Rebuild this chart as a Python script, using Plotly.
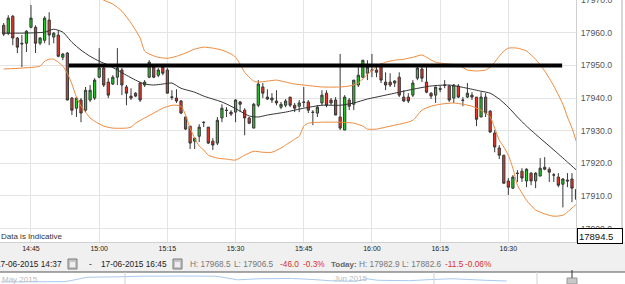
import plotly.graph_objects as go
import pandas as pd

DAY = "2015-06-17"

# ---- 1-minute candles starting 14:39 ----
opens = [17962.3, 17959.9, 17965.1, 17958.4, 17956.8, 17956.8, 17961.7, 17961.7, 17956.8, 17957.7,
         17963.9, 17958.7, 17959.3, 17952.5, 17953.8, 17940.0, 17936.9, 17939.4, 17936.3, 17939.4,
         17940.0, 17946.4, 17949.2, 17944.9, 17944.3, 17946.4, 17948.6, 17943.4, 17940.6, 17941.5,
         17944.6, 17944.0, 17946.4, 17949.5, 17947.0, 17949.5, 17948.6, 17940.4, 17940.0, 17939.1,
         17934.2, 17931.4, 17926.8, 17928.3, 17932.6, 17931.1, 17926.8, 17926.2, 17933.9, 17936.3,
         17935.7, 17935.7, 17938.8, 17936.3, 17933.9, 17930.8, 17937.8, 17943.4, 17940.3, 17939.4,
         17939.1, 17937.2, 17937.8, 17940.3, 17937.8, 17937.5, 17938.8, 17938.8, 17935.7, 17935.4,
         17938.5, 17941.5, 17939.4, 17939.4, 17934.2, 17930.2, 17939.4, 17938.1, 17944.0, 17946.4,
         17947.6, 17948.6, 17948.6, 17950.1, 17944.9, 17944.9, 17944.6, 17946.4, 17940.3, 17940.3,
         17940.9, 17946.1, 17948.9, 17944.9, 17941.5, 17940.9, 17942.9, 17944.0, 17943.7, 17940.0,
         17943.7, 17939.4, 17940.3, 17940.9, 17940.3, 17934.2, 17940.3, 17936.0, 17929.3, 17924.7,
         17922.5, 17914.6, 17912.4, 17917.0, 17917.6, 17914.6, 17917.0, 17914.6, 17916.1, 17918.8,
         17918.2, 17916.5, 17915.8, 17913.6, 17914.9, 17915.2, 17912.0]
highs = [17963.0, 17965.4, 17965.4, 17958.7, 17959.3, 17960.8, 17968.5, 17962.3, 17958.7, 17965.1,
         17966.3, 17960.2, 17960.8, 17953.8, 17954.1, 17940.3, 17940.3, 17940.0, 17943.4, 17944.0,
         17946.1, 17955.3, 17949.5, 17946.1, 17947.0, 17955.3, 17949.2, 17944.0, 17943.0, 17941.8,
         17944.9, 17945.5, 17951.6, 17950.1, 17949.2, 17950.1, 17949.2, 17942.4, 17942.7, 17939.4,
         17934.2, 17931.4, 17928.0, 17932.0, 17932.9, 17931.1, 17927.7, 17934.2, 17938.1, 17937.2,
         17936.3, 17939.7, 17939.1, 17936.9, 17934.2, 17938.5, 17945.5, 17944.6, 17942.7, 17941.5,
         17942.4, 17938.8, 17939.7, 17940.3, 17938.5, 17939.4, 17943.4, 17939.4, 17936.3, 17937.8,
         17942.4, 17942.4, 17940.0, 17940.3, 17953.5, 17940.9, 17940.0, 17945.5, 17949.5, 17951.6,
         17951.6, 17953.5, 17949.5, 17950.7, 17947.9, 17947.6, 17945.5, 17947.9, 17942.4, 17941.5,
         17945.5, 17950.1, 17949.5, 17949.5, 17941.8, 17943.4, 17943.7, 17945.5, 17944.0, 17944.3,
         17944.3, 17940.3, 17944.6, 17941.8, 17940.3, 17941.8, 17941.5, 17936.3, 17930.2, 17925.6,
         17922.5, 17915.5, 17916.4, 17917.9, 17918.5, 17918.5, 17917.3, 17917.3, 17921.6, 17921.9,
         17918.8, 17917.0, 17917.0, 17915.5, 17917.0, 17917.0, 17913.0]
lows = [17959.0, 17959.3, 17956.2, 17953.8, 17949.5, 17954.1, 17961.4, 17953.8, 17956.2, 17956.8,
        17956.2, 17956.8, 17952.5, 17951.6, 17939.4, 17934.8, 17934.2, 17932.6, 17935.7, 17938.8,
        17939.4, 17946.1, 17943.4, 17940.0, 17944.0, 17944.0, 17940.9, 17937.8, 17939.4, 17940.3,
        17938.8, 17943.4, 17946.1, 17946.1, 17946.4, 17947.0, 17941.5, 17939.4, 17938.5, 17935.1,
        17930.2, 17924.4, 17924.4, 17926.5, 17931.1, 17925.9, 17924.1, 17925.6, 17932.6, 17934.2,
        17934.5, 17932.6, 17935.7, 17928.6, 17932.0, 17930.8, 17937.2, 17940.0, 17939.4, 17938.5,
        17937.8, 17936.6, 17937.2, 17937.2, 17935.7, 17935.7, 17937.2, 17935.4, 17931.7, 17934.2,
        17937.8, 17937.2, 17937.8, 17934.8, 17930.2, 17930.2, 17936.3, 17936.3, 17943.4, 17946.1,
        17945.5, 17946.4, 17946.4, 17944.6, 17942.4, 17943.4, 17943.4, 17940.3, 17938.8, 17938.5,
        17940.3, 17945.5, 17944.9, 17941.5, 17939.7, 17938.5, 17941.8, 17943.0, 17938.8, 17938.5,
        17940.0, 17937.5, 17940.0, 17939.4, 17931.4, 17934.2, 17934.2, 17929.3, 17923.4, 17921.3,
        17913.9, 17910.3, 17912.1, 17914.3, 17914.3, 17912.7, 17913.3, 17912.4, 17916.1, 17917.9,
        17914.3, 17914.3, 17912.7, 17906.5, 17912.7, 17908.1, 17908.1]
closes = [17959.6, 17964.5, 17958.4, 17955.6, 17956.6, 17960.5, 17964.5, 17956.8, 17958.4, 17964.5,
          17959.3, 17959.9, 17952.8, 17953.5, 17939.4, 17936.3, 17940.0, 17935.4, 17942.4, 17942.4,
          17945.5, 17949.2, 17944.0, 17940.9, 17946.4, 17949.2, 17944.0, 17941.5, 17940.0, 17940.6,
          17939.4, 17944.9, 17951.0, 17946.4, 17948.6, 17947.6, 17941.5, 17940.2, 17939.1, 17935.4,
          17930.5, 17926.2, 17927.7, 17931.1, 17932.5, 17926.2, 17925.6, 17933.2, 17936.9, 17936.2,
          17935.1, 17939.4, 17938.1, 17933.9, 17932.3, 17938.1, 17944.3, 17941.5, 17939.7, 17940.0,
          17938.5, 17938.1, 17939.1, 17937.8, 17936.9, 17938.5, 17938.7, 17936.3, 17935.6, 17937.2,
          17940.9, 17937.8, 17938.5, 17934.8, 17930.8, 17940.3, 17937.5, 17945.5, 17947.0, 17951.6,
          17949.5, 17948.5, 17947.9, 17945.5, 17944.0, 17944.0, 17945.2, 17940.9, 17939.1, 17939.1,
          17944.6, 17949.2, 17946.1, 17941.8, 17940.6, 17943.4, 17942.7, 17943.9, 17939.4, 17944.0,
          17940.3, 17939.3, 17941.5, 17940.3, 17933.5, 17940.3, 17935.4, 17929.6, 17925.0, 17922.5,
          17913.9, 17912.7, 17915.8, 17916.9, 17915.5, 17918.2, 17914.6, 17917.0, 17918.5, 17918.2,
          17917.3, 17916.4, 17913.3, 17915.2, 17914.6, 17912.4, 17909.0]
candle_times = pd.date_range(f"{DAY} 14:39", periods=len(opens), freq="min")

# ---- Bollinger bands ----
upper_times = ["14:39", "14:45", "14:51", "14:55", "14:58", "15:00", "15:01", "15:03", "15:05", "15:07",
               "15:08", "15:09", "15:10", "15:11", "15:13", "15:15", "15:17", "15:19", "15:21", "15:23",
               "15:25", "15:27", "15:29", "15:30", "15:31", "15:32", "15:33", "15:34", "15:35", "15:37",
               "15:39", "15:41", "15:43", "15:45", "15:49", "15:53", "15:55", "15:57", "15:59", "16:01",
               "16:03", "16:05", "16:07", "16:09", "16:11", "16:12", "16:14", "16:17", "16:19", "16:21",
               "16:23", "16:25", "16:26", "16:27", "16:28", "16:29", "16:30", "16:32", "16:34", "16:36",
               "16:38", "16:40", "16:42", "16:43", "16:44", "16:45"]
upper_vals = [17971.2, 17970.9, 17970.9, 17971.8, 17972.5, 17970.9, 17970.0, 17968.8, 17966.6, 17963.0,
              17960.8, 17958.4, 17954.4, 17953.5, 17952.5, 17952.2, 17952.8, 17953.8, 17955.0, 17955.6,
              17955.3, 17954.7, 17953.5, 17952.5, 17950.4, 17947.9, 17946.4, 17945.2, 17944.9, 17945.2,
              17945.5, 17944.9, 17944.3, 17944.0, 17943.4, 17943.4, 17943.7, 17944.6, 17947.3, 17949.5,
              17951.0, 17951.6, 17951.9, 17952.5, 17953.2, 17952.5, 17951.0, 17950.4, 17950.1, 17948.6,
              17948.3, 17948.6, 17949.5, 17951.0, 17952.8, 17954.4, 17955.3, 17955.3, 17954.4, 17951.9,
              17948.3, 17943.7, 17938.1, 17934.2, 17930.8, 17926.5]

mid_times = ["14:39", "14:43", "14:48", "14:50", "14:52", "14:54", "14:56", "14:58", "15:00", "15:02",
             "15:04", "15:06", "15:08", "15:10", "15:12", "15:14", "15:16", "15:18", "15:21", "15:23",
             "15:25", "15:27", "15:29", "15:31", "15:33", "15:35", "15:37", "15:41", "15:45", "15:49",
             "15:53", "15:56", "15:59", "16:02", "16:05", "16:09", "16:13", "16:17", "16:21", "16:24",
             "16:26", "16:28", "16:30", "16:32", "16:34", "16:37", "16:40", "16:43", "16:45"]
mid_vals = [17959.9, 17959.9, 17960.2, 17961.1, 17960.2, 17957.1, 17954.7, 17952.8, 17951.3, 17950.1,
            17948.6, 17947.0, 17945.5, 17944.3, 17944.0, 17944.3, 17944.6, 17943.0, 17941.8, 17940.6,
            17939.7, 17938.8, 17937.5, 17936.0, 17934.5, 17934.2, 17934.8, 17935.7, 17936.9, 17937.8,
            17937.8, 17938.5, 17939.7, 17940.6, 17941.5, 17942.7, 17943.7, 17944.0, 17943.0, 17942.1,
            17941.5, 17939.7, 17937.2, 17934.2, 17931.4, 17927.7, 17924.1, 17920.4, 17917.9]

lower_times = ["14:39", "14:43", "14:47", "14:48", "14:49", "14:50", "14:51", "14:52", "14:53", "14:54",
               "14:55", "14:56", "14:57", "14:58", "14:59", "15:01", "15:03", "15:06", "15:07", "15:08",
               "15:10", "15:12", "15:14", "15:16", "15:18", "15:19", "15:20", "15:21", "15:22", "15:23",
               "15:24", "15:26", "15:28", "15:30", "15:32", "15:34", "15:36", "15:38", "15:40", "15:41",
               "15:42", "15:43", "15:44", "15:45", "15:46", "15:49", "15:53", "15:56", "15:58", "15:59",
               "16:01", "16:03", "16:05", "16:07", "16:09", "16:11", "16:13", "16:15", "16:18", "16:20",
               "16:22", "16:24", "16:25", "16:26", "16:27", "16:28", "16:29", "16:30", "16:31", "16:32",
               "16:33", "16:34", "16:36", "16:38", "16:40", "16:42", "16:43", "16:44", "16:45"]
lower_vals = [17948.9, 17949.2, 17949.8, 17951.3, 17951.9, 17951.9, 17951.0, 17949.8, 17947.6, 17944.3,
              17940.3, 17937.5, 17935.7, 17933.9, 17932.9, 17931.4, 17930.8, 17930.8, 17931.1, 17932.3,
              17933.9, 17935.4, 17936.9, 17937.8, 17937.5, 17934.8, 17930.8, 17927.7, 17925.3, 17924.1,
              17922.5, 17921.6, 17921.3, 17921.0, 17922.5, 17923.7, 17923.4, 17923.4, 17924.7, 17925.6,
              17926.5, 17927.4, 17928.3, 17931.4, 17932.3, 17932.6, 17932.6, 17932.3, 17931.4, 17930.5,
              17930.5, 17931.1, 17931.7, 17932.3, 17933.2, 17936.3, 17937.5, 17938.1, 17938.5, 17938.1,
              17937.5, 17936.3, 17935.4, 17934.2, 17930.8, 17927.1, 17925.0, 17922.5, 17918.5, 17913.3,
              17910.9, 17908.7, 17905.7, 17904.5, 17903.8, 17904.1, 17905.1, 17906.3, 17907.5]

# ---- drawn level line ----
level_price = 17950.0
level_start = "14:53:20"
level_end = "16:41:50"

# ---- axes ----
y_tick_vals = [17900, 17910, 17920, 17930, 17940, 17950, 17960]
top_tick = 17970
last_price = "17894.5"
view_start = "14:38:11"
view_end = "16:44:53"

# ---- footer texts ----
period_from = "17-06-2015 14:37"
period_to = "17-06-2015 16:45"
period_high = "H: 17968.5"
period_low = "L: 17906.5"
period_chg = "-46.0"
period_pct = "-0.3%"
today_high = "H: 17982.9"
today_low = "L: 17882.6"
today_chg = "-11.5"
today_pct = "-0.06%"

# ---- navigator series ----
nav_dates = ["2015-05-01", "2015-05-04", "2015-05-07", "2015-05-08", "2015-05-09", "2015-05-12",
             "2015-05-14", "2015-05-18", "2015-05-21", "2015-05-22", "2015-05-23", "2015-05-25",
             "2015-05-28", "2015-05-30", "2015-06-01", "2015-06-03", "2015-06-04", "2015-06-05",
             "2015-06-08", "2015-06-10", "2015-06-12", "2015-06-15", "2015-06-17"]
nav_vals = [17733, 17740, 17760, 17900, 18050, 18080, 18120, 18130, 18120, 18000, 17880, 17950,
            17970, 17900, 17800, 17780, 17950, 17850, 17820, 17900, 17950, 17850, 17800]


def tt(lst):
    return [f"{DAY} {t}" for t in lst]


W, H = 625, 284
PX = lambda x: x / W
PY = lambda y: (H - y) / H
plot_right = 576
Y_RANGE = [17895.9, 17970.05]

fig = go.Figure()
fig.add_trace(go.Scatter(x=tt(upper_times), y=upper_vals, mode="lines",
                         line=dict(color="#ee8a3c", width=1, shape="spline", smoothing=0.6),
                         hoverinfo="skip", showlegend=False))
fig.add_trace(go.Scatter(x=tt(lower_times), y=lower_vals, mode="lines",
                         line=dict(color="#ee8a3c", width=1, shape="spline", smoothing=0.6),
                         hoverinfo="skip", showlegend=False))
fig.add_trace(go.Scatter(x=tt(mid_times), y=mid_vals, mode="lines",
                         line=dict(color="#333333", width=1, shape="spline", smoothing=0.6),
                         hoverinfo="skip", showlegend=False))
fig.add_trace(go.Candlestick(
    x=candle_times, open=opens, high=highs, low=lows, close=closes,
    increasing=dict(fillcolor="#1fcc1f", line=dict(color="#383838", width=1)),
    decreasing=dict(fillcolor="#ee3322", line=dict(color="#383838", width=1)),
    whiskerwidth=0, showlegend=False))
fig.add_trace(go.Scatter(x=nav_dates, y=nav_vals, mode="lines", xaxis="x2", yaxis="y2",
                         line=dict(color="#a9c9ef", width=1), hoverinfo="skip", showlegend=False))

shapes = []
shapes.append(dict(type="rect", xref="paper", yref="paper", x0=0, x1=1, y0=PY(272), y1=PY(242),
                   fillcolor="#f0f0f0", line=dict(width=0), layer="below"))
shapes.append(dict(type="line", xref="x", yref="y", x0=f"{DAY} {level_start}", x1=f"{DAY} {level_end}",
                   y0=level_price, y1=level_price, line=dict(color="black", width=4), layer="above"))
shapes.append(dict(type="line", xref="paper", yref="paper", x0=PX(622), x1=PX(622), y0=PY(242), y1=1,
                   line=dict(color="#b0b0b0", width=1)))
for x0 in (68, 173):
    shapes.append(dict(type="rect", xref="paper", yref="paper", x0=PX(x0), x1=PX(x0 + 9),
                       y0=PY(269), y1=PY(259), fillcolor="#c4c4c4", line=dict(color="#7a7a7a", width=1)))
    shapes.append(dict(type="rect", xref="paper", yref="paper", x0=PX(x0 + 2), x1=PX(x0 + 7),
                       y0=PY(267), y1=PY(262), fillcolor="#eeeeee", line=dict(width=0)))
shapes.append(dict(type="line", xref="paper", yref="paper", x0=0, x1=1, y0=PY(272), y1=PY(272),
                   line=dict(color="#555555", width=1)))
for xv in (125, 434, 537):
    shapes.append(dict(type="line", xref="paper", yref="paper", x0=PX(xv), x1=PX(xv), y0=0, y1=PY(272),
                       line=dict(color="#d0d0d0", width=1)))
shapes.append(dict(type="rect", xref="paper", yref="paper", x0=PX(567), x1=PX(577), y0=0, y1=PY(278),
                   fillcolor="#c8c8c8", line=dict(color="#999999", width=1)))
shapes.append(dict(type="line", xref="paper", yref="paper", x0=PX(572), x1=PX(572), y0=PY(278), y1=PY(270),
                   line=dict(color="#333333", width=1)))

FONT = "Liberation Sans, Arial, sans-serif"
ann = []


def txt(s, x, y, color="#222222", size=8.3, anchor="left", bold=False, yref="paper"):
    ann.append(dict(text=(f"<b>{s}</b>" if bold else s), xref="paper", yref=yref, x=PX(x),
                    y=(PY(y) if yref == "paper" else y),
                    xanchor=anchor, yanchor="middle", showarrow=False, borderpad=0,
                    font=dict(family=FONT, size=size, color=color)))


txt("Data is Indicative", 0, 236, "#333333", 8)
txt(period_from, 63, 264, anchor="right")
txt("-", 88, 264)
txt(period_to, 100, 264)
txt(period_high, 189, 264, "#777777")
txt(period_low, 233, 264, "#777777")
txt(period_chg, 279, 264, "#d9302c")
txt(period_pct, 302, 264, "#d9302c")
txt("Today:", 330, 264, "#666666", size=8, bold=True)
txt(today_high, 358, 264, "#777777")
txt(today_low, 401, 264, "#777777")
txt(today_chg, 444, 264, "#d9302c")
txt(today_pct, 464, 264, "#d9302c")
txt("May 2015", 1, 279, "#bbbbbb", 8)
txt("Jun 2015", 333, 278, "#bbbbbb", 8)
# top price label (half cut by the top edge, as in the reference)
txt(f"{top_tick:.1f}", 580, top_tick, "#555555", 8.7, yref="y")
ann.append(dict(text=last_price, xref="paper", yref="paper", x=PX(576.5), y=PY(236), xanchor="left",
                yanchor="middle", showarrow=False, align="left", width=42, height=12,
                bgcolor="white", bordercolor="black", borderwidth=1, borderpad=1,
                font=dict(family=FONT, size=9.5, color="#111111")))

fig.update_layout(
    width=W, height=H, margin=dict(l=0, r=0, t=0, b=0),
    paper_bgcolor="white", plot_bgcolor="white", showlegend=False,
    shapes=shapes, annotations=ann,
    xaxis=dict(type="date", domain=[0, plot_right / W], range=[f"{DAY} {view_start}", f"{DAY} {view_end}"],
               tick0=f"{DAY} 14:45", dtick=15 * 60 * 1000, tickformat="%H:%M",
               showgrid=True, gridcolor="#e4e4e4", gridwidth=1, zeroline=False,
               showline=True, linecolor="#d0d0d0", ticks="", rangeslider=dict(visible=False),
               tickfont=dict(family=FONT, size=7, color="#222222"), fixedrange=True),
    yaxis=dict(domain=[PY(242), 1], range=Y_RANGE, side="right",
               tickvals=y_tick_vals + [top_tick], ticktext=[f"{v:.1f}" for v in y_tick_vals] + [""],
               showgrid=True, gridcolor="#e4e4e4",
               zeroline=False, showline=True, linecolor="#cfcfcf",
               ticks="outside", ticklen=2, tickcolor="rgba(0,0,0,0)",
               tickfont=dict(family=FONT, size=8.7, color="#555555")),
    xaxis2=dict(type="date", domain=[0, 1], anchor="y2", range=["2015-04-30 22:00", "2015-06-28"],
                showgrid=False, showticklabels=False, zeroline=False, showline=False, ticks=""),
    yaxis2=dict(domain=[0, PY(272)], anchor="x2", range=[17600, 18400], showgrid=False,
                showticklabels=False, zeroline=False, showline=False, ticks=""),
)

fig.write_html("out.html")
